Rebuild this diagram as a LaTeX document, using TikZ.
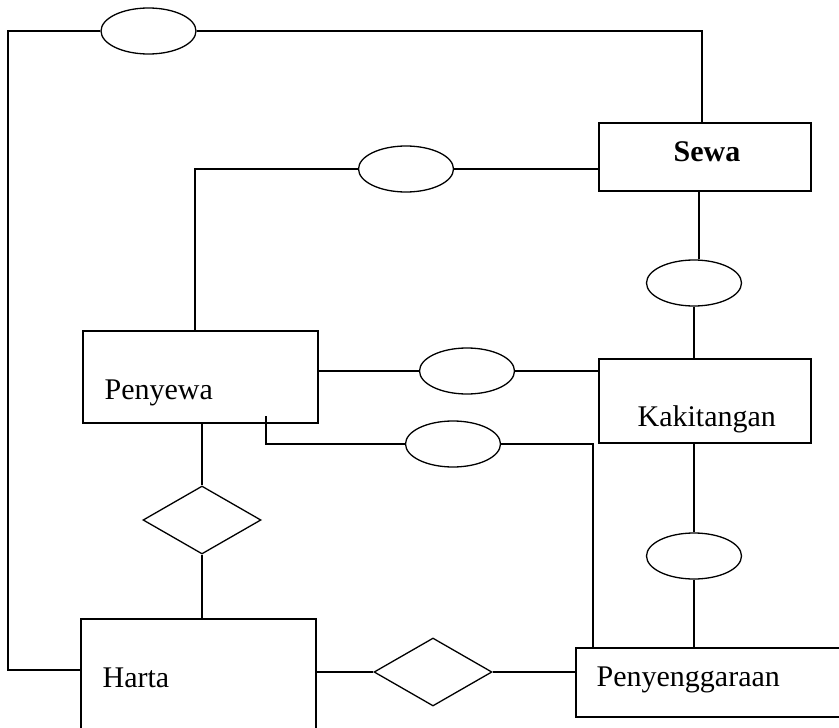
\documentclass[tikz,border=0pt]{standalone}
\usepackage{fontspec}
\setmainfont{Liberation Serif}
\usetikzlibrary{shapes.geometric}
\begin{document}
\begin{tikzpicture}[x=1pt,y=-1pt,
  line width=1.3pt,
  entbox/.style={draw, rectangle, inner sep=0pt},
  attr/.style={draw, ellipse, minimum width=95pt, minimum height=46pt, inner sep=0pt},
  rel/.style={draw, diamond, aspect=1.74, minimum width=118pt, minimum height=68pt, inner sep=0pt},
  lbl/.style={anchor=base west, inner sep=0pt, font=\fontsize{30}{36}\selectfont}]
\useasboundingbox (0,0) rectangle (839,728);
\clip (0,0) rectangle (839,728);
% entity boxes
\node[entbox, minimum width=212pt, minimum height=68pt] (sewa) at (705,157) {};
\node[entbox, minimum width=212pt, minimum height=84pt] (kaki) at (705,401) {};
\node[entbox, minimum width=235pt, minimum height=92pt] (penyewa) at (200.5,377) {};
\node[entbox, minimum width=235pt, minimum height=140pt] (harta) at (198.5,689) {};
\node[entbox, minimum width=280pt, minimum height=69pt] (peny) at (716,682.5) {};
% labels
\node[lbl] (tsewa) at (673,161) {\textbf{Sewa}};
\node[lbl] (tkaki) at (637,426) {Kakitangan};
\node[lbl] (tpenyewa) at (104,399) {Penyewa};
\node[lbl] (tharta) at (102,687) {Harta};
\node[lbl] (tpeny) at (596,686) {Penyenggaraan};
% attributes
\node[attr] (e1) at (148.5,31) {};
\node[attr] (e2) at (406,169) {};
\node[attr] (e3) at (694,283) {};
\node[attr] (e4) at (467,371) {};
\node[attr] (e5) at (453,444) {};
\node[attr] (e6) at (694,556) {};
% relationships
\node[rel] (d1) at (202,520) {};
\node[rel] (d2) at (433,672) {};
% helper coordinates
\coordinate (bl) at (8,670);
\coordinate (s1) at (702,123);
\coordinate (s2) at (599,169);
\coordinate (p1) at (195,331);
\coordinate (s3) at (699,191);
\coordinate (t1) at (266,416);
\coordinate (t2) at (266,444);
\coordinate (c1) at (593,648);
% connectors
\draw (e1.west) -| (bl) -- (bl -| harta.west);
\draw (e1.east) -| (s1);
\draw (s2) -- (e2.east);
\draw (e2.west) -| (p1);
\draw (s3) -- (e3.north -| s3);
\draw (e3.south) -- (e3.south |- kaki.north);
\draw (penyewa.east |- e4.west) -- (e4.west);
\draw (e4.east) -- (kaki.west |- e4.east);
\draw (t1) -- (t2) -- (e5.west);
\draw (e5.east) -| (c1);
\draw (kaki.south -| e6.north) -- (e6.north);
\draw (e6.south) -- (e6.south |- peny.north);
\draw (d1.north |- penyewa.south) -- (d1.north);
\draw (d1.south) -- (d1.south |- harta.north);
\draw (harta.east |- d2.west) -- (d2.west);
\draw (d2.east) -- (peny.west |- d2.east);
\end{tikzpicture}
\end{document}
